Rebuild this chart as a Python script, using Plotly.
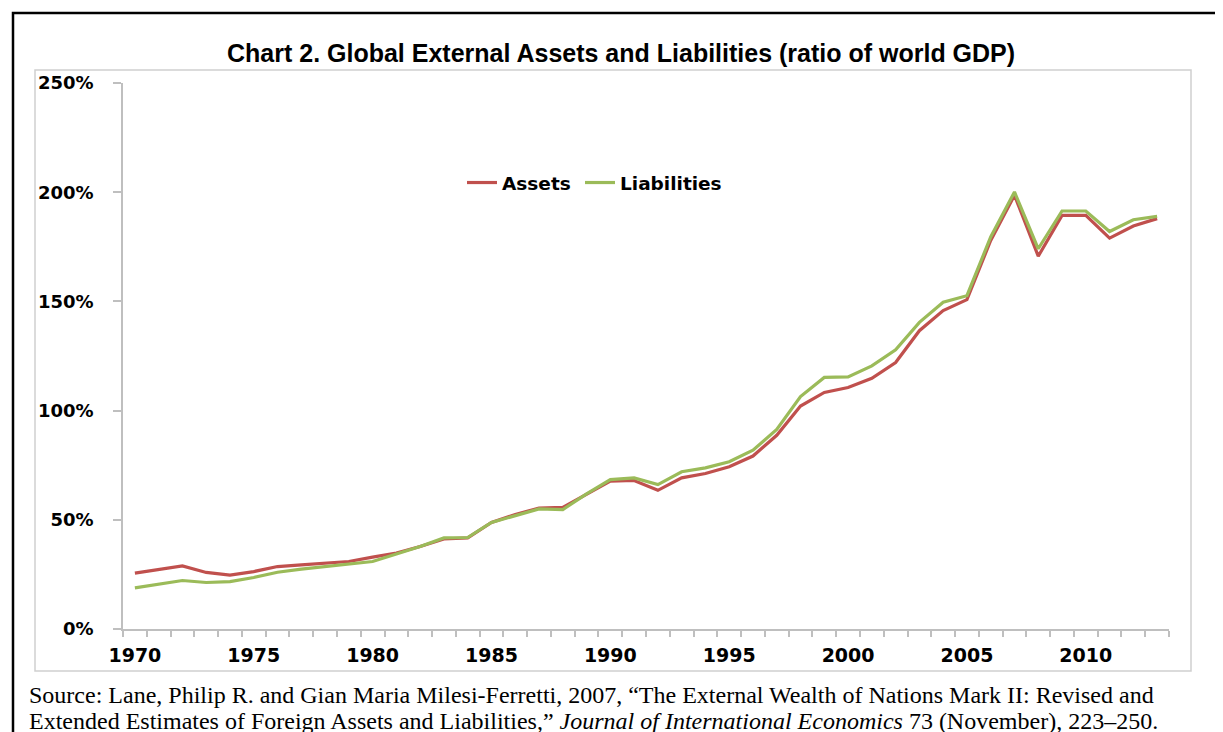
import plotly.graph_objects as go

years = list(range(1970, 2014))
assets = [25.6, 27.1, 28.9, 25.9, 24.7, 26.3, 28.6, 29.4, 30.2, 30.9,
          32.9, 34.8, 37.8, 41.2, 41.7, 48.8, 52.4, 55.4, 55.7, 61.9,
          67.7, 68.0, 63.5, 69.2, 71.2, 74.3, 79.2, 88.7, 102.1, 108.3,
          110.6, 114.8, 122.0, 136.6, 145.8, 150.8, 177.9, 198.6, 170.7, 189.4,
          189.4, 179.0, 184.5, 187.9]
liabilities = [18.8, 20.5, 22.2, 21.3, 21.7, 23.6, 26.0, 27.4, 28.6, 29.9,
               30.9, 34.3, 37.8, 41.7, 41.9, 48.8, 51.9, 55.0, 54.7, 61.9,
               68.4, 69.2, 66.1, 72.0, 73.8, 76.6, 81.9, 91.4, 106.4, 115.2,
               115.4, 120.5, 127.8, 140.4, 149.6, 152.6, 179.5, 200.1, 174.1, 191.4,
               191.4, 182.0, 187.4, 188.9]
y_ticks = [0, 50, 100, 150, 200, 250]
y_tick_labels = ["0%", "50%", "100%", "150%", "200%", "250%"]
x_ticks = [1970, 1975, 1980, 1985, 1990, 1995, 2000, 2005, 2010]

title_text = "Chart 2. Global External Assets and Liabilities (ratio of world GDP)"
source_line1 = ("Source: Lane, Philip R. and Gian Maria Milesi-Ferretti, 2007, "
                "\u201cThe External Wealth of Nations Mark II: Revised and")
source_line2 = ("Extended Estimates of Foreign Assets and Liabilities,\u201d "
                "<i>Journal of International Economics</i> 73 (November), 223\u2013250.")

W, H = 1223, 732
L, R, T, B = 115, 1161, 75, 621


def px(x):
    return (x - L) / (R - L)


def py(y):
    return (B - y) / (B - T)


fig = go.Figure()
fig.add_trace(go.Scatter(x=years, y=assets, mode="lines", name="Assets",
                         line=dict(color="#C0504D", width=3.2), legend="legend"))
fig.add_trace(go.Scatter(x=years, y=liabilities, mode="lines", name="Liabilities",
                         line=dict(color="#9BBB59", width=3.2), legend="legend2"))

axis_font = dict(family="DejaVu Sans", size=18, color="#000000", weight="bold")
legend_font = dict(family="DejaVu Sans", size=18.5, color="#000000", weight="bold")

fig.update_layout(
    width=W, height=H,
    margin=dict(l=L, r=W - R, t=T, b=H - B),
    paper_bgcolor="white", plot_bgcolor="white",
    showlegend=True,
    legend=dict(orientation="h", x=px(454), y=py(175), xanchor="left", yanchor="middle",
                font=legend_font, bgcolor="rgba(0,0,0,0)", itemwidth=30),
    legend2=dict(orientation="h", x=px(572), y=py(175), xanchor="left", yanchor="middle",
                 font=legend_font, bgcolor="rgba(0,0,0,0)", itemwidth=30),
    xaxis=dict(range=[1969.5, 2013.5], tickvals=x_ticks, ticktext=[str(v) for v in x_ticks],
               ticks="outside", ticklen=6, tickcolor="rgba(0,0,0,0)",
               showline=True, linecolor="#BFBFBF", linewidth=1.5,
               showgrid=False, zeroline=False, tickfont=dict(axis_font, size=19),
               ticklabelstandoff=2,
               minor=dict(ticks="outside", tick0=1969.5, dtick=1, ticklen=6,
                          tickcolor="#BFBFBF", tickwidth=1.5, showgrid=False)),
    yaxis=dict(range=[0, 250], tickvals=y_ticks, ticktext=y_tick_labels,
               ticks="outside", ticklen=8, tickcolor="#BFBFBF", tickwidth=1.5,
               showline=True, linecolor="#BFBFBF", linewidth=1.5,
               showgrid=False, zeroline=False, tickfont=axis_font,
               ticklabelstandoff=16),
)

shapes = [
    # inner chart frame
    dict(type="rect", xref="paper", yref="paper", x0=px(27), x1=px(1183), y0=py(663), y1=py(62),
         line=dict(color="#D0D0D0", width=1.5), fillcolor="rgba(0,0,0,0)", layer="below"),
    # outer black frame
    dict(type="rect", xref="paper", yref="paper", x0=px(5), x1=px(1219), y0=py(745), y1=py(5),
         line=dict(color="#000000", width=2.5), fillcolor="rgba(0,0,0,0)"),
]
fig.update_layout(shapes=shapes)

fig.add_annotation(text=title_text, xref="paper", yref="paper", x=px(613), y=py(45),
                   xanchor="center", yanchor="middle", showarrow=False,
                   font=dict(family="Liberation Sans", size=25, color="#000000", weight="bold"))
fig.add_annotation(text=source_line1, xref="paper", yref="paper", x=px(19), y=py(687),
                   xanchor="left", yanchor="middle", showarrow=False,
                   font=dict(family="Liberation Serif", size=24, color="#000000"))
fig.add_annotation(text=source_line2, xref="paper", yref="paper", x=px(19), y=py(713),
                   xanchor="left", yanchor="middle", showarrow=False,
                   font=dict(family="Liberation Serif", size=24, color="#000000"))

fig.write_html("out.html")
